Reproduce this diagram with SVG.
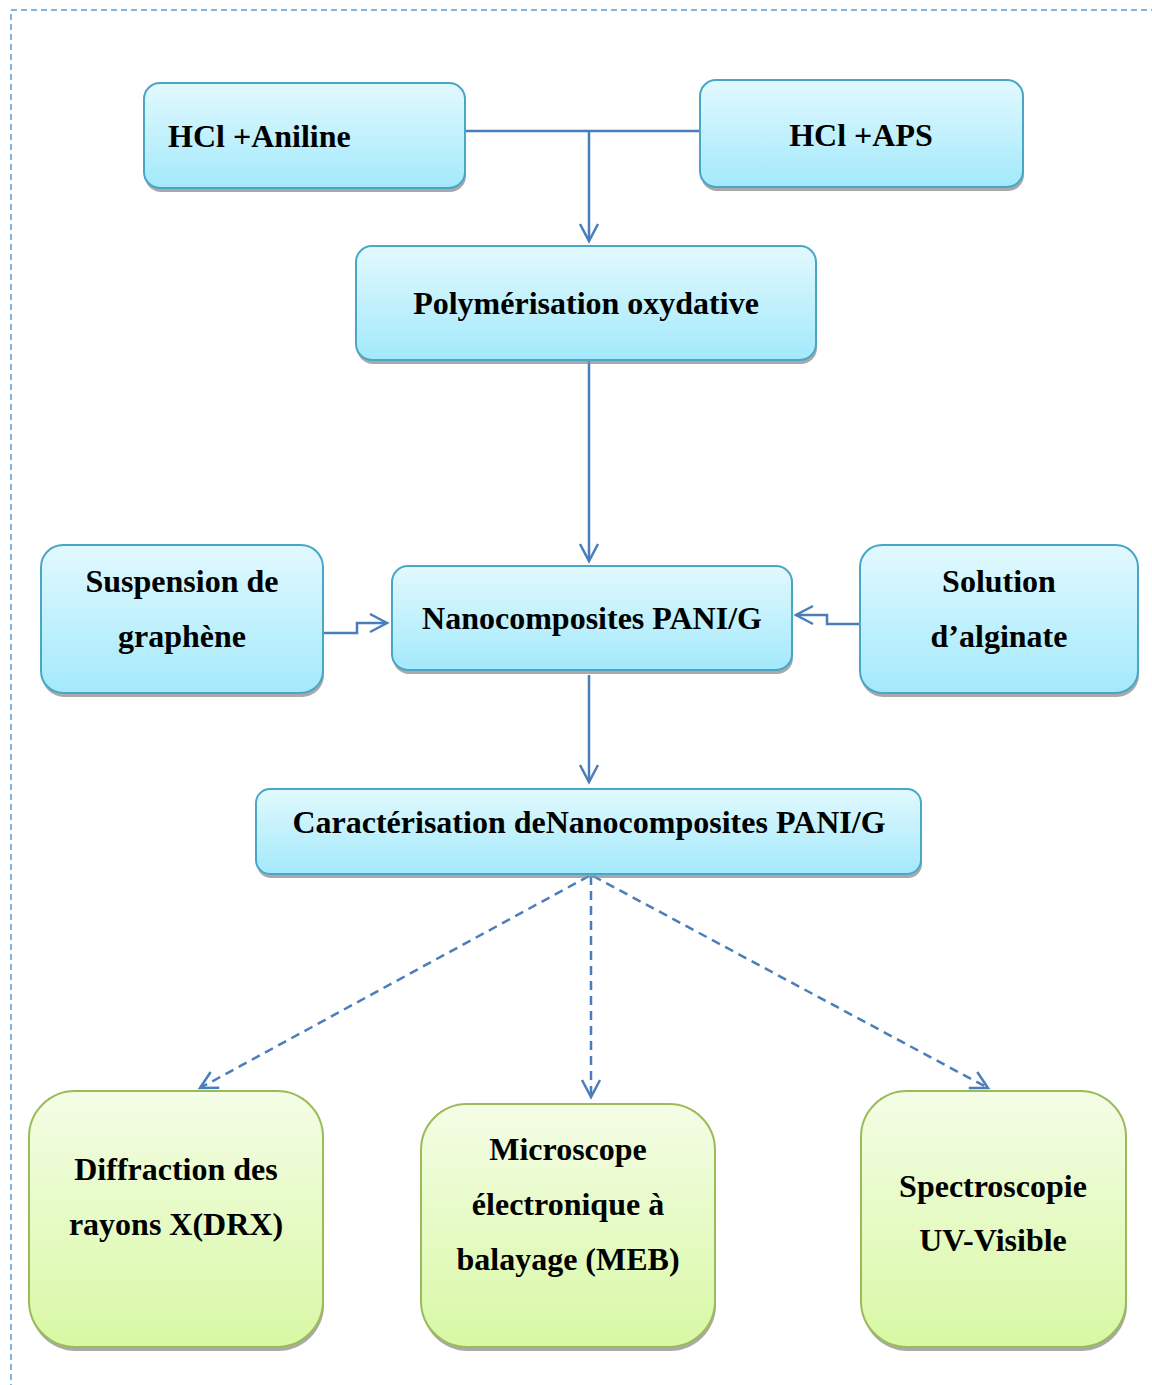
<svg xmlns="http://www.w3.org/2000/svg" width="1152" height="1385" viewBox="0 0 1152 1385">
<defs>
<linearGradient id="gb" x1="0" y1="0" x2="0" y2="1"><stop offset="0" stop-color="#e2f9fe"/><stop offset="1" stop-color="#a3e9fb"/></linearGradient>
<linearGradient id="gg" x1="0" y1="0" x2="0" y2="1"><stop offset="0" stop-color="#f4fde6"/><stop offset="1" stop-color="#d8f8a4"/></linearGradient>
<marker id="ah" markerUnits="userSpaceOnUse" markerWidth="24" markerHeight="24" refX="20" refY="12" orient="auto"><path d="M3,3 L20,12 L3,21" fill="none" stroke="#4a7ebb" stroke-width="2.5"/></marker>
<style>
.b{fill:url(#gb);stroke:#4aa6c6;stroke-width:2}
.g{fill:url(#gg);stroke:#9bbb59;stroke-width:2}
.sh{fill:#8c8c8c;opacity:0.75}
.t{font-family:"Liberation Serif","Times New Roman",serif;font-weight:bold;font-size:32px;fill:#000}
.c{stroke:#4a7ebb;stroke-width:2.5;fill:none}
.d{stroke:#4a7ebb;stroke-width:2.5;fill:none;stroke-dasharray:9 6}
</style>
</defs>
<rect x="11" y="10" width="1160" height="1400" fill="none" stroke="#5b9bd5" stroke-width="1.5" stroke-dasharray="6 4"/>

<g id="connectors">
<path class="c" d="M465,131 H700"/>
<path class="c" d="M589,131 V241" marker-end="url(#ah)"/>
<path class="c" d="M589,361 V561" marker-end="url(#ah)"/>
<path class="c" d="M323,633 H357 V623 H387" marker-end="url(#ah)"/>
<path class="c" d="M860,624 H827 V615 H796" marker-end="url(#ah)"/>
<path class="c" d="M589,675 V782" marker-end="url(#ah)"/>
<path class="d" d="M589,876 L200,1088" marker-end="url(#ah)"/>
<path class="d" d="M591,876 V1097" marker-end="url(#ah)"/>
<path class="d" d="M593,876 L988,1088" marker-end="url(#ah)"/>
</g>

<g id="n-aniline">
<rect class="sh" x="145" y="87" width="321" height="105" rx="16"/>
<rect class="b" x="144" y="83" width="321" height="105" rx="16"/>
<text class="t" x="168" y="147">HCl +Aniline</text>
</g>
<g id="n-aps">
<rect class="sh" x="701" y="84" width="323" height="107" rx="16"/>
<rect class="b" x="700" y="80" width="323" height="107" rx="16"/>
<text class="t" x="861" y="146" text-anchor="middle">HCl +APS</text>
</g>
<g id="n-poly">
<rect class="sh" x="357" y="250" width="460" height="114" rx="16"/>
<rect class="b" x="356" y="246" width="460" height="114" rx="16"/>
<text class="t" x="586" y="314" text-anchor="middle">Polymérisation oxydative</text>
</g>
<g id="n-susp">
<rect class="sh" x="42" y="549" width="282" height="148" rx="22"/>
<rect class="b" x="41" y="545" width="282" height="148" rx="22"/>
<text class="t" x="182" y="592" text-anchor="middle">Suspension de</text>
<text class="t" x="182" y="647" text-anchor="middle">graphène</text>
</g>
<g id="n-nano">
<rect class="sh" x="393" y="570" width="400" height="104" rx="16"/>
<rect class="b" x="392" y="566" width="400" height="104" rx="16"/>
<text class="t" x="592" y="629" text-anchor="middle">Nanocomposites PANI/G</text>
</g>
<g id="n-algin">
<rect class="sh" x="861" y="549" width="278" height="148" rx="22"/>
<rect class="b" x="860" y="545" width="278" height="148" rx="22"/>
<text class="t" x="999" y="592" text-anchor="middle">Solution</text>
<text class="t" x="999" y="647" text-anchor="middle">d’alginate</text>
</g>
<g id="n-carac">
<rect class="sh" x="257" y="793" width="665" height="85" rx="14"/>
<rect class="b" x="256" y="789" width="665" height="85" rx="14"/>
<text class="t" x="589" y="833" text-anchor="middle">Caractérisation deNanocomposites PANI/G</text>
</g>
<g id="n-drx">
<rect class="sh" x="30" y="1095" width="294" height="256" rx="46"/>
<rect class="g" x="29" y="1091" width="294" height="256" rx="46"/>
<text class="t" x="176" y="1180" text-anchor="middle">Diffraction des</text>
<text class="t" x="176" y="1235" text-anchor="middle">rayons X(DRX)</text>
</g>
<g id="n-meb">
<rect class="sh" x="422" y="1108" width="294" height="243" rx="46"/>
<rect class="g" x="421" y="1104" width="294" height="243" rx="46"/>
<text class="t" x="568" y="1160" text-anchor="middle">Microscope</text>
<text class="t" x="568" y="1215" text-anchor="middle">électronique à</text>
<text class="t" x="568" y="1270" text-anchor="middle">balayage (MEB)</text>
</g>
<g id="n-uv">
<rect class="sh" x="862" y="1095" width="265" height="256" rx="46"/>
<rect class="g" x="861" y="1091" width="265" height="256" rx="46"/>
<text class="t" x="993" y="1197" text-anchor="middle">Spectroscopie</text>
<text class="t" x="993" y="1251" text-anchor="middle">UV-Visible</text>
</g>
</svg>
